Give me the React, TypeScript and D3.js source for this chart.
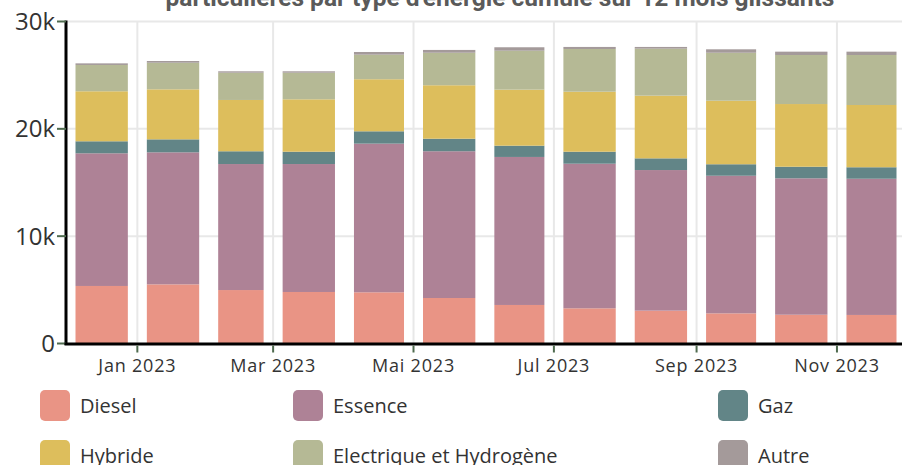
import React, { useEffect, useRef } from "react";
import * as d3 from "d3";

const months = ["2022-12", "2023-01", "2023-02", "2023-03", "2023-04", "2023-05", "2023-06", "2023-07", "2023-08", "2023-09", "2023-10", "2023-11"];
const seriesNames = ["Diesel", "Essence", "Gaz", "Hybride", "Electrique et Hydrogène", "Autre"];
const diesel = [5360, 5510, 4980, 4800, 4770, 4240, 3590, 3280, 3060, 2810, 2680, 2660];
const essence = [12360, 12300, 11740, 11920, 13850, 13670, 13790, 13470, 13100, 12820, 12710, 12690];
const gaz = [1120, 1210, 1190, 1150, 1150, 1170, 1050, 1120, 1090, 1070, 1080, 1070];
const hybride = [4660, 4660, 4780, 4880, 4850, 4980, 5220, 5590, 5840, 5920, 5840, 5800];
const electrique = [2450, 2480, 2540, 2480, 2290, 3030, 3630, 3980, 4380, 4470, 4570, 4660];
const autre = [150, 160, 130, 130, 250, 260, 320, 190, 160, 320, 310, 310];
const colors = ["#E99485", "#AE8296", "#628587", "#DDBE5C", "#B5B995", "#A49A9A"];
const yTicks = [0, 10000, 20000, 30000];
const xTickMonths = ["2023-01", "2023-03", "2023-05", "2023-07", "2023-09", "2023-11"];
const monthNames = ["Jan", "Fév", "Mar", "Avr", "Mai", "Juin", "Jul", "Aoû", "Sep", "Oct", "Nov", "Déc"];
const title = "particulières par type d'énergie cumulé sur 12 mois glissants";

const W = 902, H = 465;

export default function App() {
  const ref = useRef<SVGSVGElement>(null);
  useEffect(() => {
    const svg = d3.select(ref.current);
    svg.selectAll("*").remove();
    const parse = d3.timeParse("%Y-%m");
    const left = 66, right = 906, top = 21.5, bottom = 343.5;
    const x = d3.scaleTime().domain([new Date(2022, 11, 1), new Date(2023, 11, 1)]).range([left, right]);
    const y = d3.scaleLinear().domain([0, 30000]).range([bottom, top]);

    const series = [diesel, essence, gaz, hybride, electrique, autre];
    const rows = months.map((m, i) => {
      const r: any = { date: parse(m) };
      seriesNames.forEach((s, j) => (r[s] = series[j][i]));
      return r;
    });
    const stacked = d3.stack().keys(seriesNames)(rows);

    const font = "'Open Sans', sans-serif";
    // grid
    const g = svg.append("g");
    g.selectAll("line.hg").data(yTicks.filter(t => t > 0)).join("line")
      .attr("x1", left).attr("x2", W).attr("y1", d => y(d)).attr("y2", d => y(d))
      .attr("stroke", "#e8e8e8").attr("stroke-width", 2);
    g.selectAll("line.vg").data(xTickMonths.map(m => parse(m)!)).join("line")
      .attr("x1", d => x(d)).attr("x2", d => x(d)).attr("y1", top).attr("y2", bottom)
      .attr("stroke", "#e8e8e8").attr("stroke-width", 2);

    // bars
    const pad = 9.5;
    svg.append("g").selectAll("g").data(stacked).join("g")
      .attr("fill", (_, i) => colors[i])
      .selectAll("rect").data(d => d).join("rect")
      .attr("x", (d: any) => x(d.data.date) + pad)
      .attr("width", (d: any) => x(d3.timeMonth.offset(d.data.date, 1)) - x(d.data.date) - 2 * pad)
      .attr("y", (d: any) => y(d[1]))
      .attr("height", (d: any) => y(d[0]) - y(d[1]));

    // y axis
    svg.append("line").attr("x1", left).attr("x2", left).attr("y1", top - 1).attr("y2", bottom + 1.5)
      .attr("stroke", "#000").attr("stroke-width", 3);
    svg.append("g").selectAll("line").data(yTicks).join("line")
      .attr("x1", left - 9).attr("x2", left).attr("y1", d => y(d)).attr("y2", d => y(d))
      .attr("stroke", "#4f6b4f").attr("stroke-width", 2);
    svg.append("g").selectAll("text").data(yTicks).join("text")
      .attr("x", left - 11).attr("y", d => y(d)).attr("dy", "0.36em")
      .attr("text-anchor", "end").attr("font-family", font).attr("font-size", 24)
      .attr("fill", "#333").text(d => d3.format("~s")(d));

    // x axis
    svg.append("line").attr("x1", left - 1.5).attr("x2", W).attr("y1", bottom + 0.5).attr("y2", bottom + 0.5)
      .attr("stroke", "#000").attr("stroke-width", 3);
    const xt = xTickMonths.map(m => parse(m)!);
    svg.append("g").selectAll("line").data(xt).join("line")
      .attr("x1", d => x(d)).attr("x2", d => x(d)).attr("y1", bottom + 2).attr("y2", bottom + 9)
      .attr("stroke", "#4f6b4f").attr("stroke-width", 2);
    svg.append("g").selectAll("text").data(xt).join("text")
      .attr("x", d => x(d)).attr("y", bottom + 28)
      .attr("text-anchor", "middle").attr("font-family", font).attr("font-size", 18)
      .attr("letter-spacing", 0.8)
      .attr("fill", "#333").text(d => `${monthNames[d.getMonth()]} ${d.getFullYear()}`);

    // title
    svg.append("text").attr("x", 500).attr("y", 6).attr("text-anchor", "middle")
      .attr("font-family", "Roboto, sans-serif").attr("font-weight", "bold").attr("font-size", 24.5)
      .attr("fill", "#5a5a5a").text(title);

    // legend
    const legX = [40, 293, 718];
    const legY = [390, 440];
    const lg = svg.append("g").selectAll("g").data(seriesNames).join("g")
      .attr("transform", (_, i) => `translate(${legX[i % 3]},${legY[Math.floor(i / 3)]})`);
    lg.append("rect").attr("width", 30).attr("height", 31).attr("rx", 5).attr("fill", (_, i) => colors[i]);
    lg.append("text").attr("x", 40).attr("y", 15.5).attr("dy", "0.36em")
      .attr("font-family", font).attr("font-size", 20).attr("fill", "#333").text(d => d);
  }, []);
  return (
    <svg ref={ref} width={W} height={H} style={{ position: "absolute", left: 0, top: 0, background: "#fff" }} />
  );
}
